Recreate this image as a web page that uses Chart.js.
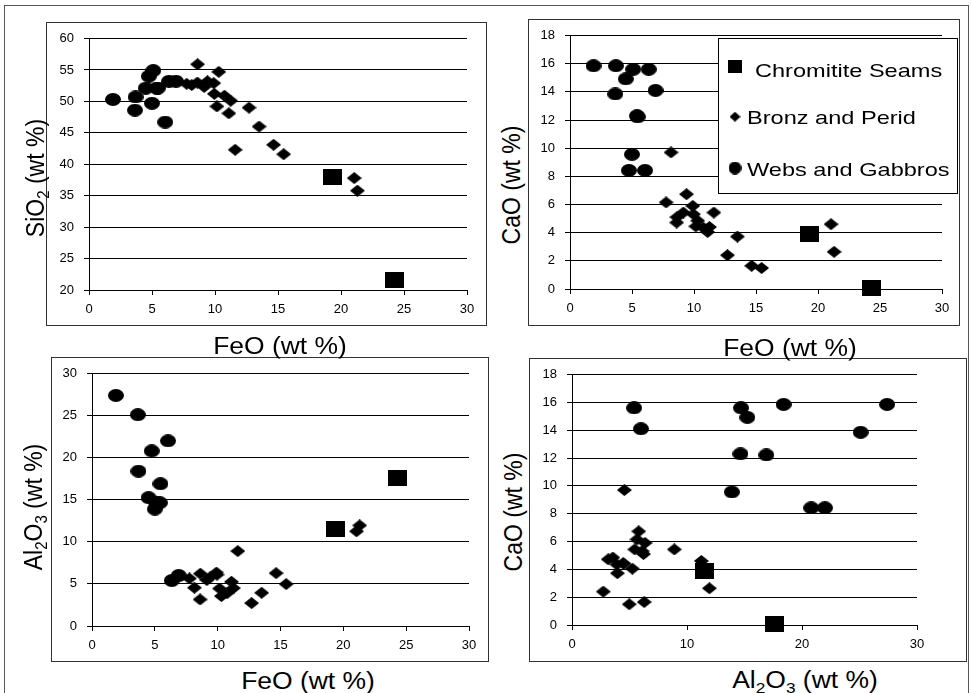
<!DOCTYPE html>
<html lang="en">
<head>
<meta charset="UTF-8" />
<title>Chromitite seams, bronzitites and gabbros</title>
<script src="https://cdn.jsdelivr.net/npm/chart.js@4.4.1/dist/chart.umd.min.js"></script>
<style>
  html, body { margin: 0; padding: 0; background: #fff; }
  body { width: 971px; height: 693px; position: relative; overflow: hidden;
         font-family: "Liberation Sans", Arial, sans-serif; }
  #frame { position: absolute; left: 4px; top: 5px; width: 965px; height: 700px;
           border: 1px solid #555; box-sizing: border-box; }
  canvas { position: absolute; }
  .ttl { position: absolute; font-size: 23px; color: #000; white-space: nowrap; line-height: 1; }
  .ttl sub { font-size: 15px; vertical-align: -5px; line-height: 0; }
  .h { transform: translate(-50%, -50%) scaleX(1.15); }
  .v { transform: translate(-50%, -50%) scaleX(1.15) rotate(-90deg); }
</style>
</head>
<body>
<div id="frame"></div>

<canvas id="feoSio2" width="441" height="304" style="left:46px;top:22px"></canvas>
<canvas id="feoCao" width="432" height="307" style="left:528px;top:19px"></canvas>
<canvas id="feoAl2o3" width="438" height="305" style="left:51px;top:357px"></canvas>
<canvas id="al2o3Cao" width="438" height="304" style="left:529px;top:358px"></canvas>

<div class="ttl v" style="left:35px;top:178px">SiO<sub>2</sub> (wt %)</div>
<div class="ttl h" style="left:280px;top:346px">FeO (wt %)</div>
<div class="ttl v" style="left:511px;top:185px">CaO (wt %)</div>
<div class="ttl h" style="left:790px;top:348px">FeO (wt %)</div>
<div class="ttl v" style="left:33px;top:507px">Al<sub>2</sub>O<sub>3</sub> (wt %)</div>
<div class="ttl h" style="left:308px;top:681px">FeO (wt %)</div>
<div class="ttl v" style="left:513px;top:512px">CaO (wt %)</div>
<div class="ttl h" style="left:805px;top:680px">Al<sub>2</sub>O<sub>3</sub> (wt %)</div>

<script>
// Chromitite Seams
const seamFeO   = [19.35, 24.28];
const seamSiO2  = [38.0, 21.6];
const seamCaO   = [3.9, 0.08];
const seamAl2O3 = [11.5, 17.6];

// Bronz and Perid
const bronzFeO   = [8.15, 11.6, 13.5, 12.7, 14.65, 15.45, 21.05, 21.3, 8.62, 10.3,
                    8.6, 7.75, 9.4, 9.14, 9.9, 9.95, 11.25, 11.1, 10.15, 10.75];
const bronzSiO2  = [52.6, 42.3, 46.0, 49.0, 43.1, 41.6, 37.8, 35.8, 55.9, 54.7,
                    53.0, 52.8, 53.2, 52.3, 52.9, 51.2, 50.1, 48.1, 49.2, 50.9];
const bronzCaO   = [9.7, 5.43, 3.72, 2.4, 1.65, 1.49, 4.6, 2.64, 5.1, 4.85,
                    4.72, 6.15, 6.73, 5.43, 5.9, 5.31, 4.4, 4.05, 4.45, 4.35];
const bronzAl2O3 = [4.55, 8.9, 3.95, 2.72, 6.28, 4.98, 11.25, 11.95, 6.22, 3.55,
                    3.15, 5.65, 5.8, 5.46, 6.35, 6.1, 4.5, 5.25, 4.45, 3.9];

// Webs and Gabbros
const webFeO   = [1.9, 3.65, 6.05, 4.75, 3.7, 5.45, 4.5, 5.1, 5.4, 5.0, 6.35, 6.9];
const webSiO2  = [50.3, 48.6, 46.7, 54.0, 50.7, 52.1, 52.1, 54.9, 52.1, 49.7, 53.2, 53.2];
const webCaO   = [15.85, 13.85, 8.42, 8.42, 15.85, 12.22, 14.92, 15.6, 12.3, 9.56, 15.6, 14.1];
const webAl2O3 = [27.4, 25.1, 22.0, 20.8, 18.4, 16.9, 15.25, 14.7, 14.65, 13.9, 5.4, 6.0];

const seriesNames = ['Chromitite Seams', 'Bronz and Perid', 'Webs and Gabbros'];

// axis ranges: [min, max, step]
const feoRange  = [0, 30, 5];
const sio2Range = [20, 60, 5];
const caoRange  = [0, 18, 2];
const al2o3Range = [0, 30, 5];
const al2o3RangeX = [0, 30, 10];

function marker(shape, w, h) {
  const c = document.createElement('canvas');
  c.width = w; c.height = h;
  const g = c.getContext('2d');
  g.fillStyle = '#000';
  g.beginPath();
  if (shape === 'square') g.rect(0, 0, w, h);
  else if (shape === 'diamond') {
    g.moveTo(w / 2, 0); g.lineTo(w, h / 2); g.lineTo(w / 2, h); g.lineTo(0, h / 2); g.closePath();
  } else g.ellipse(w / 2, h / 2, w / 2, h / 2, 0, 0, Math.PI * 2);
  g.fill();
  return c;
}

const marks = [marker('square', 19, 16), marker('diamond', 15, 12), marker('ellipse', 16, 13)];
const legendMarks = [marker('square', 14, 13), marker('diamond', 11, 10), marker('ellipse', 13, 13)];

function pts(xs, ys) {
  return xs.map((x, i) => ({ x: x, y: ys[i] }));
}

function datasets(xs, ys) {
  return xs.map((x, i) => ({
    label: seriesNames[i],
    data: pts(x, ys[i]),
    pointStyle: marks[i],
    pointRadius: 7,
    clip: false
  }));
}

const tickFont = { family: '"Liberation Sans", Arial, sans-serif', size: 13, lineHeight: 1 };

function axes(xr, yr, yWidth, xHeight) {
  return {
    x: {
      type: 'linear', min: xr[0], max: xr[1],
      ticks: { stepSize: xr[2], color: '#000', font: tickFont, padding: 8, maxRotation: 0, autoSkip: false },
      grid: { drawOnChartArea: false, drawTicks: true, tickLength: 5, color: '#000' },
      border: { display: true, color: '#000' },
      afterFit(s) { s.height = xHeight; }
    },
    y: {
      type: 'linear', min: yr[0], max: yr[1],
      ticks: { stepSize: yr[2], color: '#000', font: tickFont, padding: 10, autoSkip: false },
      grid: { color: '#000', tickLength: 5 },
      border: { display: true, color: '#000' },
      afterFit(s) { s.width = yWidth; }
    }
  };
}

const panelBox = {
  id: 'panelBox',
  beforeDraw(chart) {
    const ctx = chart.ctx;
    ctx.save();
    ctx.strokeStyle = '#333';
    ctx.lineWidth = 1;
    ctx.strokeRect(0.5, 0.5, chart.width - 1, chart.height - 1);
    ctx.restore();
  }
};

const boxLegend = {
  id: 'boxLegend',
  afterDatasetsDraw(chart, args, o) {
    if (!o || !o.rows) return;
    const ctx = chart.ctx;
    ctx.save();
    ctx.fillStyle = '#fff';
    ctx.fillRect(o.x, o.y, o.w, o.h);
    ctx.strokeStyle = '#000';
    ctx.lineWidth = 1;
    ctx.strokeRect(o.x + 0.5, o.y + 0.5, o.w, o.h);
    chart.data.datasets.forEach((ds, i) => {
      const r = o.rows[i];
      const m = legendMarks[i];
      ctx.drawImage(m, r.mx - m.width / 2, r.my - m.height / 2);
      ctx.save();
      ctx.translate(r.tx, r.ty);
      ctx.scale(o.stretch, 1);
      ctx.font = o.font;
      ctx.fillStyle = '#000';
      ctx.textBaseline = 'alphabetic';
      ctx.fillText(ds.label, 0, 0);
      ctx.restore();
    });
    ctx.restore();
  }
};

function makeChart(id, xs, ys, xr, yr, yWidth, xHeight, pad, legendOpts) {
  return new Chart(document.getElementById(id), {
    type: 'scatter',
    data: { datasets: datasets(xs, ys) },
    options: {
      responsive: false,
      animation: false,
      events: [],
      layout: { padding: pad },
      plugins: {
        legend: { display: false },
        tooltip: { enabled: false },
        boxLegend: legendOpts || {}
      },
      scales: axes(xr, yr, yWidth, xHeight)
    },
    plugins: [panelBox, boxLegend]
  });
}

makeChart('feoSio2',
  [seamFeO, bronzFeO, webFeO], [seamSiO2, bronzSiO2, webSiO2],
  feoRange, sio2Range, 43, 36, { top: 7, right: 20, bottom: 0, left: 0 });

makeChart('feoCao',
  [seamFeO, bronzFeO, webFeO], [seamCaO, bronzCaO, webCaO],
  feoRange, caoRange, 42, 37, { top: 8, right: 18, bottom: 0, left: 0 },
  {
    x: 190, y: 19, w: 239, h: 155, stretch: 1.24,
    font: '19px "Liberation Sans", Arial, sans-serif',
    rows: [
      { mx: 207, my: 47.5, tx: 227, ty: 58 },
      { mx: 207, my: 97.7, tx: 219, ty: 105 },
      { mx: 207, my: 149, tx: 219, ty: 156.5 }
    ]
  });

makeChart('feoAl2o3',
  [seamFeO, bronzFeO, webFeO], [seamAl2O3, bronzAl2O3, webAl2O3],
  feoRange, al2o3Range, 41, 36, { top: 7, right: 20, bottom: 0, left: 0 });

makeChart('al2o3Cao',
  [seamAl2O3, bronzAl2O3, webAl2O3], [seamCaO, bronzCaO, webCaO],
  al2o3RangeX, caoRange, 43, 37, { top: 7, right: 50, bottom: 0, left: 0 });
</script>
</body>
</html>
